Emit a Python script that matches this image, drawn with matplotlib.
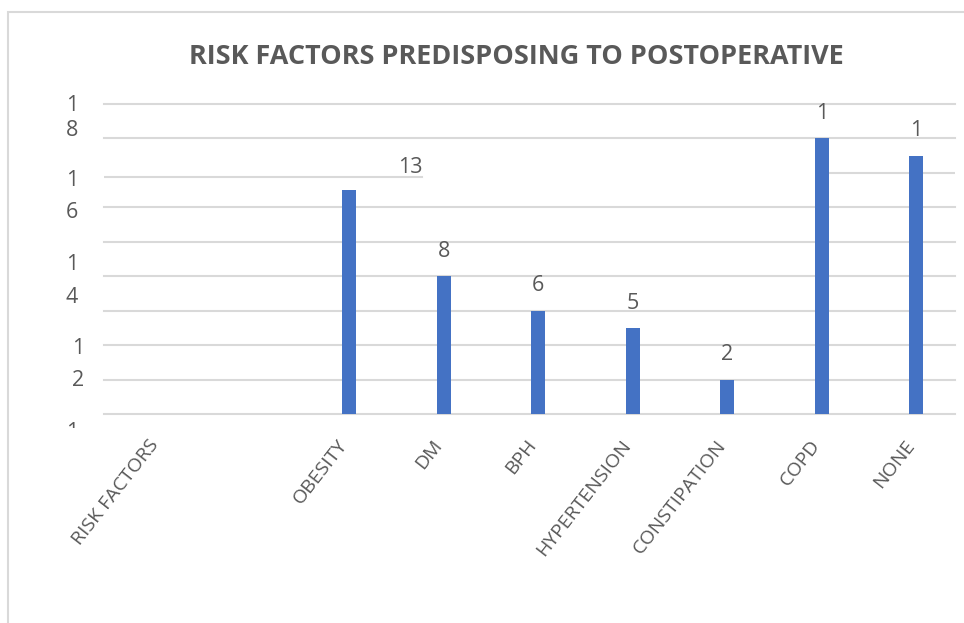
import matplotlib
matplotlib.use("Agg")
import matplotlib.pyplot as plt
from matplotlib.patches import Rectangle
from matplotlib.transforms import Bbox, TransformedBbox, ScaledTranslation

# data
categories = ["RISK FACTORS", "", "OBESITY", "DM", "BPH", "HYPERTENSION",
              "CONSTIPATION", "COPD", "NONE"]
values = [0, 0, 13, 8, 6, 5, 2, 16, 15]
bar_labels = ["", "", "13", "8", "6", "5", "2", "1", "1"]   # as shown (cut off)
grid_values = [0, 2, 4, 6, 8, 10, 12, 16, 18]
# broken y labels: one digit per entry, (text, data y)
ytick_digits = [("1", 17.94), ("8", 16.49), ("1", 13.59), ("6", 11.73),
                ("1", 8.71), ("4", 6.79), ("1", 3.83), ("2", 1.97), ("1", -1.05)]
title = "RISK FACTORS PREDISPOSING TO POSTOPERATIVE"

BLUE = "#4472C4"
GREY = "#595959"
GRID = "#D9D9D9"
FONT = ["Open Sans", "DejaVu Sans"]

plt.rcParams['font.family'] = FONT

W, H = 964, 623
fig = plt.figure(figsize=(W / 100, H / 100), dpi=100)
ax = fig.add_axes([104 / W, 1 - 428 / H, 851 / W, 324 / H])

x = list(range(len(categories)))
ax.bar(x, values, width=0.148, color=BLUE, zorder=3)

ax.set_xlim(-0.593, 8.41)
ax.set_ylim(-0.8, 18.0)

# grid lines (14 is drawn broken, like the picture)
for g in grid_values:
    ax.axhline(g, color=GRID, lw=1.5, zorder=1, clip_on=False)
ax.axhline(13.76, xmin=0.0, xmax=(422 - 104) / 851, color=GRID, lw=1.5, zorder=1)
ax.axhline(14.0, xmin=(822 - 104) / 851, xmax=1.0, color=GRID, lw=1.5, zorder=1)

for s in ax.spines.values():
    s.set_visible(False)
ax.set_yticks([])
ax.set_xticks(x)
ax.set_xticklabels(categories, rotation=52, ha="right", va="center",
                   rotation_mode="anchor", color=GREY, fontsize=14)
ax.tick_params(axis="x", length=0, pad=10)
shift = ScaledTranslation(-5 / 100, 0, fig.dpi_scale_trans)
for lab in ax.get_xticklabels():
    lab.set_transform(lab.get_transform() + shift)

# data labels
for i, (v, t) in enumerate(zip(values, bar_labels)):
    if not t:
        continue
    off = (44, 16.5) if t == "13" else (0, 18)
    ax.annotate(t, (i, v), xytext=off, textcoords="offset points",
                ha="center", va="center", fontsize=15.5, color=GREY)

# broken y tick labels
clip = TransformedBbox(Bbox([[-0.2, 0.0], [0.0, 1.1]]), ax.transAxes)
for k, (t, yv) in enumerate(ytick_digits):
    xa = (78 - 104) / 851 if k in (6, 7) else (72 - 104) / 851
    tx = ax.text(xa, yv, t, transform=ax.get_yaxis_transform(), ha="center",
                 va="center", fontsize=15.5, color=GREY, clip_on=True)
    tx.set_clip_box(clip)

# title, fitted to the width in the picture
ttl = fig.text(516 / W, 1 - 57 / H, title, ha="center", va="center",
               fontsize=20, fontweight="bold", color=GREY)
fig.canvas.draw()
w = ttl.get_window_extent().width
ttl.set_fontsize(20 * 653 / w)

# chart area border
fig.patches.append(Rectangle((8 / W, -0.05), 1.1, 1 - 12 / H + 0.05,
                             transform=fig.transFigure, fill=False,
                             edgecolor=GRID, lw=1.5))

fig.savefig("out.png", dpi=100)
